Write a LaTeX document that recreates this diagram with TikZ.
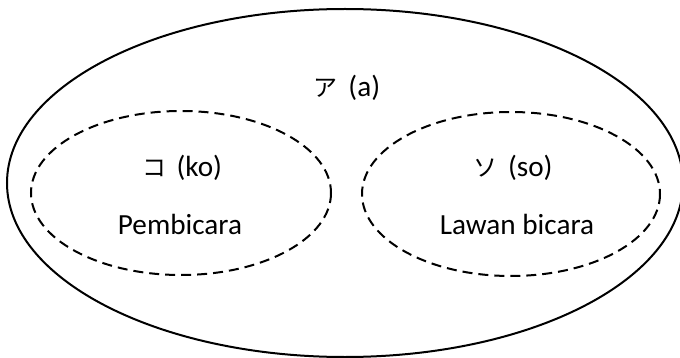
\documentclass[tikz,border=0pt]{standalone}
\usepackage{fontspec}
\setmainfont{Carlito}
\newfontfamily\jpfont{Noto Sans CJK JP}
\newcommand{\kana}[1]{{\jpfont\fontsize{12}{14}\selectfont #1}\hspace{2pt}}
\begin{document}
\begin{tikzpicture}[x=0.5pt,y=-0.5pt,line width=1pt,
  lbl/.style={font=\fontsize{14.6}{17}\selectfont},
  zone/.style={dash pattern=on 5pt off 3pt}]
\useasboundingbox (0,0) rectangle (680,358);
% the whole area and the two zones
\draw (345,183) ellipse (338 and 174);
\draw[zone] (181,193) ellipse (150 and 82);
\draw[zone] (511,194) ellipse (149 and 82);
\node[lbl] (a) at (347,88) {\kana{ア} (a)};
\node[lbl] (ko) at (182,168) {\kana{コ} (ko)};
\node[lbl] (pem) at (180,224) {Pembicara};
\node[lbl] (so) at (513,168) {\kana{ソ} (so)};
\node[lbl] (lawan) at (517,224) {Lawan bicara};
\end{tikzpicture}
\end{document}
